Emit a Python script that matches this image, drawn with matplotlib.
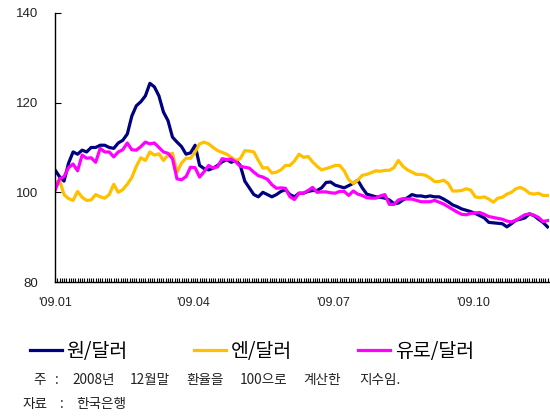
import numpy as np
import matplotlib
matplotlib.use("Agg")
import matplotlib.pyplot as plt

# trading-day index (every 2nd trading day from early Jan 2009)
days = list(range(0, 220, 2))

krw_usd = [105, 103.5, 102.5, 106.5, 109, 108.5, 109.4, 109, 110, 110,
           110.5, 110.5, 110, 109.8, 111, 111.6, 113, 117, 119.3, 120.2,
           121.5, 124.3, 123.5, 121.5, 117.9, 116, 112.3, 111.2, 110.2, 108.5,
           108.8, 110.5, 106, 105.3, 105, 105.4, 106, 106.8, 107.3, 106.7,
           107.1, 106, 102.5, 101, 99.5, 99, 100, 99.5, 99, 99.5,
           100.2, 100.6, 99.5, 99, 99.8, 99.8, 100.2, 100.4, 100.4, 101,
           102.2, 102.3, 101.6, 101.3, 101, 101.5, 102, 102.7, 101, 99.6,
           99.3, 99, 98.9, 98.7, 98.3, 97.5, 97.6, 98.3, 98.8, 99.5,
           99.2, 99.2, 99, 99.2, 99, 99, 98.5, 97.9, 97.2, 96.8,
           96.3, 96, 95.7, 95.3, 94.8, 94.3, 93.3, 93.2, 93.1, 93,
           92.3, 93, 93.8, 94, 94.3, 95.2, 94.8, 94, 93.3, 92.3]

jpy_usd = [102, 102.7, 99.5, 98.6, 98.2, 100.2, 98.9, 98.2, 98.3, 99.5,
           99, 98.7, 99.5, 101.8, 100, 100.6, 101.8, 103.3, 105.8, 107.7,
           107.1, 109, 108.3, 108.6, 107.1, 108.3, 108.7, 104.5, 106.5, 107.6,
           107.6, 109, 110.8, 111.2, 110.8, 110, 109.3, 108.9, 108.5, 107.8,
           107.1, 107.5, 109.3, 109.2, 109, 107.1, 105.4, 105.5, 104.3, 104.5,
           105, 106, 106, 107, 108.5, 107.8, 108, 106.8, 105.8, 105,
           105.3, 105.6, 106, 106, 104.8, 102.8, 102, 102.7, 103.8, 104,
           104.4, 104.8, 104.7, 104.9, 104.9, 105.5, 107.1, 105.8, 105, 104.5,
           104, 104, 103.8, 103.2, 102.4, 102.4, 102.7, 102, 100.3, 100.3,
           100.4, 100.8, 100.5, 99, 98.8, 99, 98.5, 97.8, 98.7, 98.9,
           99.6, 100, 100.8, 101.1, 100.6, 99.8, 99.6, 99.8, 99.3, 99.3]

eur_usd = [100.4, 103, 103.5, 105.5, 106.3, 104.8, 108.3, 107.6, 107.7, 106.7,
           109.8, 109, 109, 107.9, 109, 109.5, 111, 109.5, 109.4, 110.2,
           111.2, 110.8, 111, 110, 109, 108.7, 107.5, 103, 102.8, 103.5,
           105.6, 105.5, 103.4, 104.6, 106, 105.4, 105.7, 107.5, 107.3, 107.4,
           106.8, 105.8, 105.6, 105.4, 104.5, 103.7, 103.4, 102.9, 101.7, 100.9,
           101, 100.9, 99, 98.4, 99.8, 99.8, 100.4, 101.1, 100, 100.1,
           100.1, 99.9, 99.8, 100.2, 100.2, 99.3, 100.3, 99.6, 99.3, 98.8,
           98.7, 98.7, 99.2, 99.5, 97.3, 97.3, 98.3, 98.6, 98.5, 98.5,
           98.2, 97.9, 97.9, 97.9, 98.2, 97.8, 97.4, 96.8, 96.2, 95.6,
           95.1, 95, 95.3, 95.4, 95.5, 95.1, 94.6, 94.4, 94.2, 94,
           93.6, 93.4, 93.8, 94.4, 95, 95.2, 94.9, 94.4, 93.5, 93.7]

series_names = ["원/달러", "엔/달러", "유로/달러"]
month_ticks = [0, 61, 123, 185]
month_labels = ["'09.01", "'09.04", "'09.07", "'09.10"]
y_ticks = [80, 100, 120, 140]

note_words = ["주", ":", "2008년", "12월말", "환율을", "100으로", "계산한", "지수임."]
source_words = ["자료", ":", "한국은행"]

num_font = ["Liberation Sans", "Noto Sans CJK KR"]
kr_font = ["Noto Sans CJK KR", "DejaVu Sans"]

fig = plt.figure(figsize=(5.5, 4.16), dpi=100)
ax = fig.add_axes([0.1, 0.322, 0.898, 0.647])

colors = ["#000080", "#FFC000", "#FF00FF"]
lines = []
for vals, c, name in zip([krw_usd, jpy_usd, eur_usd], colors, series_names):
    ln, = ax.plot(days, vals, color=c, lw=2.3, label=name, solid_joinstyle="round")
    lines.append(ln)

ax.set_ylim(80, 140)
ax.set_xlim(0, 218.6)
ax.set_yticks(y_ticks)
ax.set_yticklabels([str(v) for v in y_ticks], fontfamily=num_font, fontsize=9.5,
                   color="#222222")
ax.set_xticks(month_ticks)
ax.set_xticklabels(month_labels, fontfamily=num_font, fontsize=9, color="#222222")
ax.set_xticks(np.arange(0, 219, 1), minor=True)
ax.tick_params(axis="x", which="major", direction="in", length=3, width=0.8, pad=11, color="black")
ax.tick_params(axis="x", which="minor", direction="in", length=3, width=0.8)
ax.tick_params(axis="y", direction="in", length=4, width=0.8, pad=12)
for s in ["top", "right"]:
    ax.spines[s].set_visible(False)
for s in ["left", "bottom"]:
    ax.spines[s].set_linewidth(1.0)
    ax.spines[s].set_color("black")

leg = fig.legend(handles=lines, labels=series_names, loc="center",
                 bbox_to_anchor=(0.458, 0.155), ncol=3, frameon=False,
                 prop={"family": kr_font, "size": 14}, handlelength=1.65,
                 handletextpad=0.25, columnspacing=3.4)

note_cx = [40, 57, 94, 150, 205, 264, 322, 380]
for w, xp in zip(note_words, note_cx):
    fig.text(xp / 550, 0.087, w, fontfamily=kr_font, fontsize=9.8,
             va="center", ha="center", color="#222222")
source_cx = [35, 62, 101]
for w, xp in zip(source_words, source_cx):
    fig.text(xp / 550, 0.029, w, fontfamily=kr_font, fontsize=9.8,
             va="center", ha="center", color="#222222")

fig.savefig("out.png", dpi=100)
